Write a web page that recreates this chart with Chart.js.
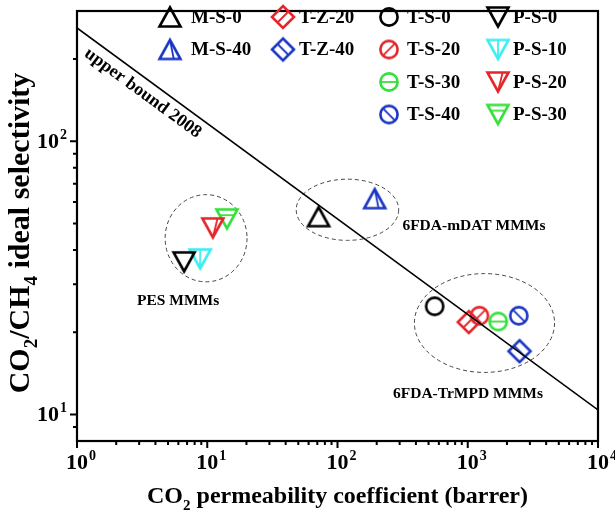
<!DOCTYPE html>
<html><head><meta charset="utf-8">
<script src="https://cdn.jsdelivr.net/npm/chart.js@4/dist/chart.umd.min.js"></script>
<style>html,body{margin:0;padding:0;background:#fff}#wrap{width:615px;height:520px;position:relative}</style>
</head><body><div id="wrap"><canvas id="c"></canvas></div>
<script>
// ---------------- data ----------------
const seriesNames = ['M-S-0','M-S-40','T-Z-20','T-Z-40','T-S-0','T-S-20','T-S-30','T-S-40','P-S-0','P-S-10','P-S-20','P-S-30'];
const co2Permeability = [71.6, 193, 1018, 2497, 557, 1230, 1713, 2466, 6.64, 8.82, 11.04, 14.15];
const selectivity    = [53.0, 61.7, 21.8, 17.05, 24.9, 23.0, 21.9, 23.0, 36.2, 37.1, 48.2, 52.0];
const upperBoundX = [1, 10000];
const upperBoundY = [260, 10.4];
const xTickValues = [1,2,3,4,5,6,7,8,9,10,20,30,40,50,60,70,80,90,100,200,300,400,500,600,700,800,900,1000,2000,3000,4000,5000,6000,7000,8000,9000,10000];
const xMajorValues = [1,10,100,1000,10000];
const xLabelExponents = ['0','1','2','3','4'];
const yTickValues = [9,10,20,30,40,50,60,70,80,90,100,200];
const yMajorValues = [10,100];
const yLabelExponents = ['1','2'];
const groupNames = ['PES MMMs','6FDA-mDAT MMMs','6FDA-TrMPD MMMs'];

// ---------------- styles / layout (not data) ----------------
const BLUE='#1c36c4', RED='#e5252a', GREEN='#35e03a', CYAN='#3ceef2', BLACK='#000';
const markerStyles = {
  'M-S-0':{shape:'triUp',color:BLACK,stripe:null},
  'M-S-40':{shape:'triUp',color:BLUE,stripe:'apex'},
  'T-Z-20':{shape:'diamond',color:RED,stripe:'slash'},
  'T-Z-40':{shape:'diamond',color:BLUE,stripe:'back'},
  'T-S-0':{shape:'circle',color:BLACK,stripe:null},
  'T-S-20':{shape:'circle',color:RED,stripe:'slash'},
  'T-S-30':{shape:'circle',color:GREEN,stripe:'horiz'},
  'T-S-40':{shape:'circle',color:BLUE,stripe:'back'},
  'P-S-0':{shape:'triDown',color:BLACK,stripe:null},
  'P-S-10':{shape:'triDown',color:CYAN,stripe:'vert'},
  'P-S-20':{shape:'triDown',color:RED,stripe:'slant'},
  'P-S-30':{shape:'triDown',color:GREEN,stripe:'horiz'}
};
const legendCols = [{m:170,t:191},{m:283,t:299},{m:389,t:407},{m:498,t:513}];
const legendRows = [17,49.5,82,114.5];
const legendPlace = {'M-S-0':[0,0],'M-S-40':[0,1],'T-Z-20':[1,0],'T-Z-40':[1,1],'T-S-0':[2,0],'T-S-20':[2,1],'T-S-30':[2,2],'T-S-40':[2,3],'P-S-0':[3,0],'P-S-10':[3,1],'P-S-20':[3,2],'P-S-30':[3,3]};
// ellipse extents in data units [xmin,xmax,ymin,ymax]
const ellipses = [[4.75,20.2,30.6,63.8],[48.2,294.9,43.4,72.7],[389.3,4639,14.26,32.8]];
// group label anchors in data units
const groupAnchors = [{x:5.98,y:26.0,align:'center'},{x:315,y:48.9,align:'left'},{x:1004,y:11.9,align:'center'}];
const boundLabelAnchor = {x:3.2,y:150};
const SERIF = '"Liberation Serif","DejaVu Serif",serif';

function makeMarker(st){
  const c=document.createElement('canvas'); c.width=30; c.height=30;
  const g=c.getContext('2d'); g.translate(15,15);
  g.strokeStyle=st.color; g.lineWidth=2.6; g.lineJoin='miter'; g.lineCap='butt';
  g.beginPath();
  let w=21,h=19,s=11,r=8.6;
  if(st.shape==='triUp'){g.moveTo(0,-h/2);g.lineTo(w/2,h/2);g.lineTo(-w/2,h/2);g.closePath();}
  else if(st.shape==='triDown'){g.moveTo(0,h/2);g.lineTo(w/2,-h/2);g.lineTo(-w/2,-h/2);g.closePath();}
  else if(st.shape==='diamond'){g.moveTo(0,-s);g.lineTo(s,0);g.lineTo(0,s);g.lineTo(-s,0);g.closePath();}
  else if(st.shape==='circle'){g.arc(0,0,r,0,Math.PI*2);}
  g.stroke();
  if(st.stripe){
    g.lineWidth=1.8; g.beginPath();
    const k=st.shape==='circle'?r*0.707:(st.shape==='diamond'?s/2:0);
    if(st.stripe==='apex'){g.moveTo(0,-h/2);g.lineTo(w*0.18,h/2);}
    else if(st.stripe==='vert'){g.moveTo(0,-h/2);g.lineTo(0,h/2);}
    else if(st.stripe==='slant'){g.moveTo(w*0.22,-h/2);g.lineTo(0,h/2);}
    else if(st.stripe==='horiz'){ if(st.shape==='circle'){g.moveTo(-r,0);g.lineTo(r,0);} else {const yy=-h/2+h*0.3; const hw=(w/2)*(1-0.3); g.moveTo(-hw,yy);g.lineTo(hw,yy);} }
    else if(st.stripe==='slash'){g.moveTo(-k,k);g.lineTo(k,-k);}
    else if(st.stripe==='back'){g.moveTo(-k,-k);g.lineTo(k,k);}
    g.stroke();
  }
  return c;
}
const markerImgs = {};
seriesNames.forEach(n=>markerImgs[n]=makeMarker(markerStyles[n]));

function drawRich(ctx, parts, x, y, size, align){
  const big='bold '+size+'px '+SERIF, small='bold '+Math.round(size*0.62)+'px '+SERIF;
  let total=0; parts.forEach(p=>{ctx.font=p[1]==='n'?big:small; total+=ctx.measureText(p[0]).width;});
  let cx = align==='center'? x-total/2 : (align==='right'? x-total : x);
  ctx.textBaseline='middle'; ctx.textAlign='left';
  parts.forEach(p=>{
    ctx.font=p[1]==='n'?big:small;
    const dy = p[1]==='sub'? size*0.38 : (p[1]==='sup'? -size*0.3 : 0);
    ctx.fillText(p[0], cx, y+dy); cx+=ctx.measureText(p[0]).width;
  });
}

const drawPlugin = {
  id:'customDraw',
  beforeDatasetsDraw(chart){
    const ctx=chart.ctx, xs=chart.scales.x, ys=chart.scales.y;
    ctx.save();
    ctx.strokeStyle='#444'; ctx.lineWidth=1; ctx.setLineDash([4,3]);
    ellipses.forEach(e=>{
      const x1=xs.getPixelForValue(e[0]), x2=xs.getPixelForValue(e[1]);
      const y1=ys.getPixelForValue(e[2]), y2=ys.getPixelForValue(e[3]);
      ctx.beginPath(); ctx.ellipse((x1+x2)/2,(y1+y2)/2,Math.abs(x2-x1)/2,Math.abs(y2-y1)/2,0,0,Math.PI*2); ctx.stroke();
    });
    ctx.setLineDash([]);
    ctx.fillStyle='#000'; ctx.font='bold 15.5px '+SERIF; ctx.textBaseline='middle';
    groupNames.forEach((g,i)=>{
      const a=groupAnchors[i]; ctx.textAlign=a.align;
      ctx.fillText(g, xs.getPixelForValue(a.x), ys.getPixelForValue(a.y));
    });
    const px1=xs.getPixelForValue(upperBoundX[0]), py1=ys.getPixelForValue(upperBoundY[0]);
    const px2=xs.getPixelForValue(upperBoundX[1]), py2=ys.getPixelForValue(upperBoundY[1]);
    const ang=Math.atan2(py2-py1,px2-px1);
    ctx.save();
    ctx.translate(xs.getPixelForValue(boundLabelAnchor.x), ys.getPixelForValue(boundLabelAnchor.y));
    ctx.rotate(ang); ctx.textAlign='center'; ctx.font='bold 18px '+SERIF;
    ctx.fillText('upper bound 2008',0,0);
    ctx.restore();
    ctx.restore();
  },
  afterDraw(chart){
    const ctx=chart.ctx, xs=chart.scales.x, ys=chart.scales.y, a=chart.chartArea;
    ctx.save();
    ctx.strokeStyle='#000'; ctx.lineWidth=2.2;
    ctx.strokeRect(a.left,a.top,a.right-a.left,a.bottom-a.top);
    ctx.lineWidth=2;
    ctx.beginPath();
    xTickValues.forEach(v=>{const px=xs.getPixelForValue(v); const L=xMajorValues.includes(v)?7:4; ctx.moveTo(px,a.bottom); ctx.lineTo(px,a.bottom+L);});
    yTickValues.forEach(v=>{const py=ys.getPixelForValue(v); const L=yMajorValues.includes(v)?7:4; ctx.moveTo(a.left,py); ctx.lineTo(a.left-L,py);});
    ctx.stroke();
    ctx.fillStyle='#000';
    xMajorValues.forEach((v,i)=>{
      const px=xs.getPixelForValue(v);
      ctx.font='bold 22px '+SERIF; const w=ctx.measureText('10').width;
      ctx.textBaseline='middle'; ctx.textAlign='left';
      ctx.fillText('10',px-w/2,a.bottom+22);
      ctx.font='bold 14px '+SERIF; ctx.fillText(xLabelExponents[i],px+w/2+1,a.bottom+15);
    });
    yMajorValues.forEach((v,i)=>{
      const py=ys.getPixelForValue(v);
      ctx.font='bold 14px '+SERIF; const we=ctx.measureText(yLabelExponents[i]).width;
      ctx.textBaseline='middle'; ctx.textAlign='left';
      ctx.fillText(yLabelExponents[i],a.left-10-we,py-6);
      ctx.font='bold 22px '+SERIF; ctx.textAlign='right';
      ctx.fillText('10',a.left-11-we,py+1);
    });
    drawRich(ctx,[['CO','n'],['2','sub'],[' permeability coefficient (barrer)','n']],(a.left+a.right)/2,497,24,'center');
    ctx.save(); ctx.translate(21,233); ctx.rotate(-Math.PI/2);
    drawRich(ctx,[['CO','n'],['2','sub'],['/CH','n'],['4','sub'],[' ideal selectivity','n']],0,0,30,'center');
    ctx.restore();
    seriesNames.forEach(n=>{
      const pl=legendPlace[n], col=legendCols[pl[0]], y=legendRows[pl[1]];
      const img=markerImgs[n]; ctx.drawImage(img,col.m-img.width/2,y-img.height/2);
      ctx.font='bold 19px '+SERIF; ctx.textAlign='left'; ctx.textBaseline='middle';
      ctx.fillText(n,col.t,y+1);
    });
    ctx.restore();
  }
};

new Chart(document.getElementById('c'),{
  type:'scatter',
  data:{datasets:[
    {type:'line',label:'upper bound 2008',data:upperBoundX.map((x,i)=>({x:x,y:upperBoundY[i]})),borderColor:'#000',borderWidth:1.6,pointRadius:0,fill:false,tension:0},
    ...seriesNames.map((n,i)=>({label:n,data:[{x:co2Permeability[i],y:selectivity[i]}],pointStyle:markerImgs[n],pointRadius:10,pointHoverRadius:10,borderColor:markerStyles[n].color,backgroundColor:'transparent'}))
  ]},
  options:{
    responsive:true,maintainAspectRatio:false,animation:false,devicePixelRatio:1,
    layout:{padding:{top:1,right:17,left:0,bottom:0}},
    plugins:{legend:{display:false},tooltip:{enabled:false}},
    events:[],
    scales:{
      x:{type:'logarithmic',min:1,max:10000,grid:{display:false},border:{display:false},ticks:{display:false},afterFit(s){s.height=79;}},
      y:{type:'logarithmic',min:8,max:300,grid:{display:false},border:{display:false},ticks:{display:false},afterFit(s){s.width=77;}}
    }
  },
  plugins:[drawPlugin]
});
</script></body></html>
